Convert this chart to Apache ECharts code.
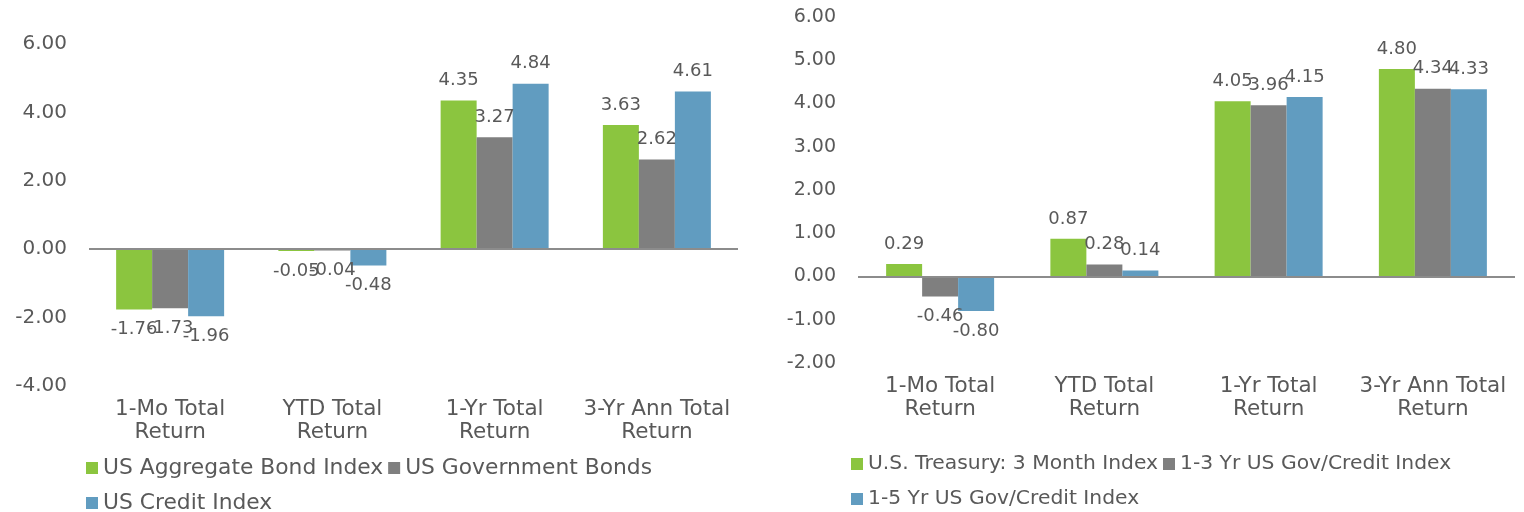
<!DOCTYPE html>
<html>
<head>
<meta charset="utf-8">
<script src="https://cdn.jsdelivr.net/npm/echarts@6/dist/echarts.min.js"></script>
<style>
  html, body { margin: 0; padding: 0; background: #fff; }
  #chart { width: 1524px; height: 512px; }
</style>
</head>
<body>
<div id="chart"></div>
<script>
// categories shared by both panels
const categories = ['1-Mo Total\nReturn', 'YTD Total\nReturn', '1-Yr Total\nReturn', '3-Yr Ann Total\nReturn'];

// left panel
const usAggregate = [-1.76, -0.05, 4.35, 3.63];
const usGovernment = [-1.73, -0.04, 3.27, 2.62];
const usCredit = [-1.96, -0.48, 4.84, 4.61];

// right panel
const treasury3m = [0.29, 0.87, 4.05, 4.80];
const govCredit13 = [-0.46, 0.28, 3.96, 4.34];
const govCredit15 = [-0.80, 0.14, 4.15, 4.33];

const green = '#8BC53F';
const gray = '#7F7F7F';
const blue = '#619CC0';
const textColor = '#595959';
const font = 'DejaVu Sans';

function items(arr) {
  return arr.map(v => ({ value: v, label: { position: v < 0 ? 'bottom' : 'top' } }));
}

function barSeries(name, arr, color, idx, withZero) {
  let s = {
    name: name,
    type: 'bar',
    xAxisIndex: idx,
    yAxisIndex: idx,
    data: items(arr),
    barWidth: 36,
    barGap: '0%',
    itemStyle: { color: color },
    label: {
      show: true,
      distance: 11,
      color: textColor,
      fontFamily: font,
      fontSize: 18,
      formatter: p => p.value.toFixed(2)
    }
  };
  if (withZero) {
    s.markLine = {
      silent: true,
      symbol: ['none', 'none'],
      label: { show: false },
      lineStyle: { color: '#8C8C8C', width: 2, type: 'solid' },
      data: [{ yAxis: 0 }]
    };
  }
  return s;
}

function xAxis(idx) {
  return {
    type: 'category',
    gridIndex: idx,
    data: categories,
    axisLine: { show: false },
    axisTick: { show: false },
    axisLabel: {
      color: textColor,
      fontFamily: font,
      fontSize: 21.5,
      lineHeight: 23,
      margin: 12,
      interval: 0
    }
  };
}

function yAxis(idx, min, max, interval, size) {
  return {
    type: 'value',
    gridIndex: idx,
    min: min,
    max: max,
    interval: interval,
    axisLine: { show: false },
    axisTick: { show: false },
    splitLine: { show: false },
    axisLabel: {
      color: textColor,
      fontFamily: font,
      fontSize: size,
      margin: 22,
      formatter: v => v.toFixed(2)
    }
  };
}

let chart = echarts.init(document.getElementById('chart'));
let option = {
  animation: false,
  grid: [
    { left: 89, width: 649, top: 44, bottom: 126 },
    { left: 858, width: 657, top: 17, bottom: 149 }
  ],
  xAxis: [xAxis(0), xAxis(1)],
  yAxis: [yAxis(0, -4, 6, 2, 20), yAxis(1, -2, 6, 1, 19)],
  legend: [
    {
      left: 81,
      top: 448,
      width: 585,
      itemWidth: 12,
      itemHeight: 12,
      itemGap: 5,
      icon: 'rect',
      textStyle: { color: textColor, fontFamily: font, fontSize: 21.8, lineHeight: 30 },
      data: ['US Aggregate Bond Index', 'US Government Bonds', 'US Credit Index']
    },
    {
      left: 846,
      top: 444,
      width: 620,
      itemWidth: 12,
      itemHeight: 12,
      itemGap: 5,
      icon: 'rect',
      textStyle: { color: textColor, fontFamily: font, fontSize: 20.3, lineHeight: 30 },
      data: ['U.S. Treasury: 3 Month Index', '1-3 Yr US Gov/Credit Index', '1-5 Yr US Gov/Credit Index']
    }
  ],
  series: [
    barSeries('US Aggregate Bond Index', usAggregate, green, 0, true),
    barSeries('US Government Bonds', usGovernment, gray, 0, false),
    barSeries('US Credit Index', usCredit, blue, 0, false),
    barSeries('U.S. Treasury: 3 Month Index', treasury3m, green, 1, true),
    barSeries('1-3 Yr US Gov/Credit Index', govCredit13, gray, 1, false),
    barSeries('1-5 Yr US Gov/Credit Index', govCredit15, blue, 1, false)
  ]
};
chart.setOption(option);
</script>
</body>
</html>
